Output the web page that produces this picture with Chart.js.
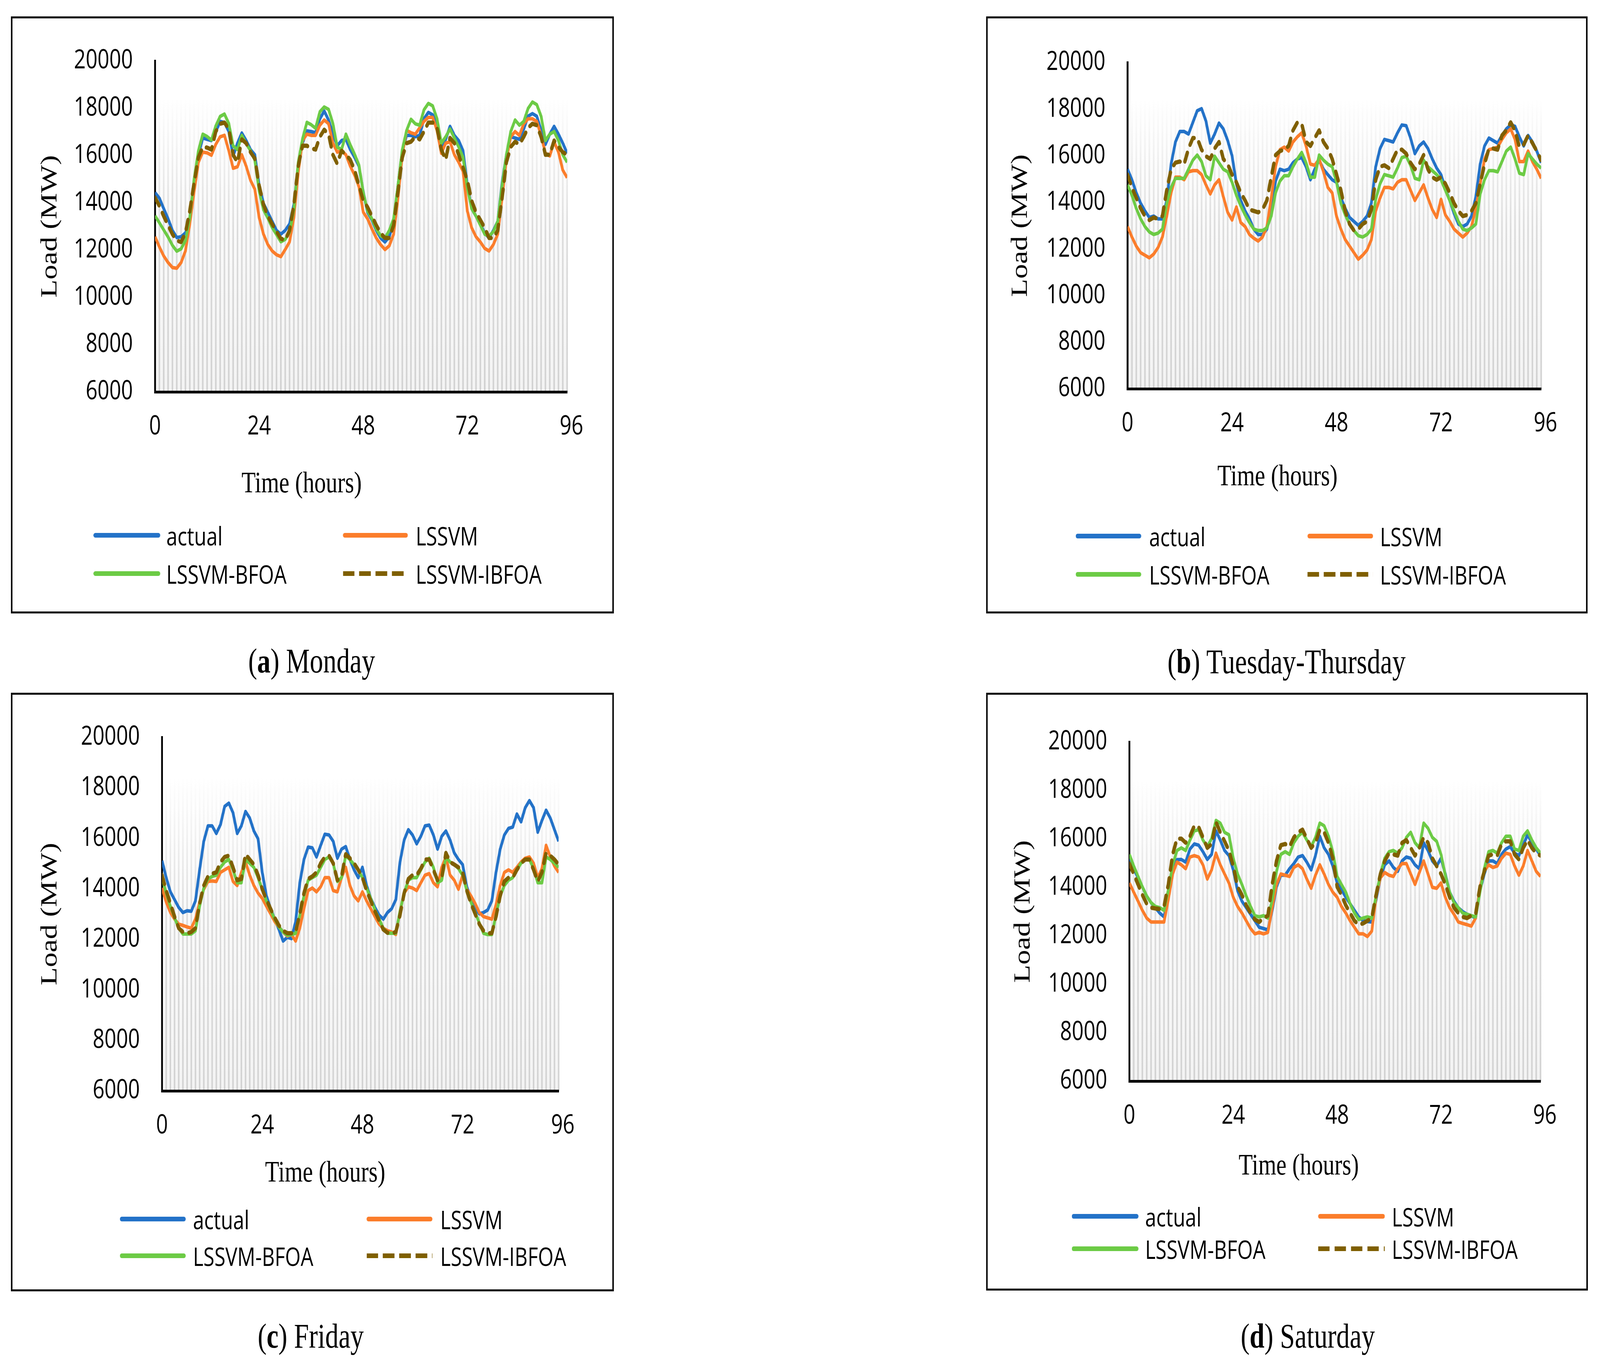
<!DOCTYPE html>
<html>
<head>
<meta charset="utf-8">
<script src="https://cdn.jsdelivr.net/npm/chart.js@4.4.1/dist/chart.umd.min.js"></script>
<style>
html, body { margin: 0; padding: 0; background: #fff; overflow: hidden; }
#stage { width: 5273px; height: 3491px; position: absolute; left: 0; top: 0; transform-origin: 0 0; font-family: 'Open Sans', sans-serif; }
.box { position: absolute; box-sizing: border-box; border: 5px solid #000; }
canvas.plot { position: absolute; }
.caption { position: absolute; font-family: 'Liberation Serif', serif; font-size: 88px; transform: translate(-50%, -50%); white-space: nowrap; line-height: 1; }
.leg-line { position: absolute; height: 12px; }
.leg-text { position: absolute; font-size: 66px; transform: translateY(-50%); white-space: nowrap; line-height: 1; color: #000; }
</style>
</head>
<body>
<div id="stage"></div>
<script>
// hours of the 4-day window and the tick labels on the time axis
var hours = Array.from({length: 96}, function (_, i) { return i; });
var xTicks = [0, 24, 48, 72, 96];
var yMin = 6000, yMax = 20000, yStep = 2000;
var seriesNames = ['actual', 'LSSVM', 'LSSVM-BFOA', 'LSSVM-IBFOA'];

// (a) Monday
var mon_actual = [14430,14190,13750,13320,12830,12530,12560,12720,13210,14620,
  16030,16740,16680,16630,17010,17440,17390,17010,15980,16520,
  16950,16630,16250,16030,14730,13970,13590,13210,12830,12670,
  12830,13100,13920,15550,16520,17040,17010,16960,17550,17880,
  17500,16900,16410,16630,16680,16250,15920,15550,14460,13590,
  13270,12830,12510,12340,12560,13210,14730,16200,16850,16850,
  16790,16850,17550,17820,17720,17280,16360,16680,17230,16850,
  16630,16200,14730,13750,13430,13100,12720,12510,12830,13210,
  14840,16030,16790,16740,16680,17120,17660,17770,17660,17060,
  16470,16900,17230,16900,16520,16090];
var mon_lssvm = [12560,12130,11750,11470,11260,11230,11470,11960,13100,14460,
  15710,16140,16110,16010,16470,16790,16850,16200,15460,15520,
  16030,15550,14950,14570,13370,12670,12230,11960,11800,11720,
  12020,12340,13370,15270,16630,16900,16850,16850,17280,17500,
  17340,16520,16140,16200,16030,15550,15170,14680,13600,13320,
  12890,12510,12230,12020,12180,12670,14190,16030,17060,16960,
  16900,17170,17440,17610,17610,17060,16090,16520,16580,16030,
  15710,15330,13650,12940,12560,12340,12070,11960,12230,12670,
  14190,15820,16790,17010,16850,17340,17550,17550,17440,16850,
  16090,15980,16580,16140,15380,15060];
var mon_bfoa = [13450,13150,12850,12550,12200,11950,12050,12400,13370,15000,
  16200,16900,16800,16650,17250,17650,17750,17350,16400,16250,
  16850,16500,16200,15800,14500,13700,13350,12950,12650,12350,
  12450,12750,13700,15700,16700,17400,17300,17150,17850,18050,
  17950,17350,16350,16250,16900,16450,16050,15600,14430,13650,
  13320,12890,12610,12510,12830,13320,14730,16250,17060,17530,
  17340,17280,17930,18200,18100,17550,16520,16790,17120,16740,
  16360,15920,14620,13750,13430,13050,12670,12590,12780,13210,
  14730,16030,17010,17500,17280,17440,17990,18260,18150,17660,
  16630,16900,17010,16630,16030,15710];
var mon_ibfoa = [14220,13860,13430,13050,12670,12400,12340,12720,13650,14840,
  15920,16360,16330,16250,17010,17340,17390,17120,16030,15710,
  16680,16520,16140,15870,14730,13920,13430,13100,12780,12480,
  12420,12830,13920,15550,16410,16410,16300,16250,16790,17090,
  16900,16030,15650,16200,16030,15820,15380,14730,14100,13810,
  13430,13050,12720,12510,12510,13050,14460,15920,16520,16580,
  16790,16680,17010,17390,17390,17170,16250,15820,16740,16520,
  16030,15490,14950,14080,13590,13270,12940,12510,12510,12830,
  14190,15710,16360,16580,16470,16790,17170,17340,17280,16790,
  16030,16030,16630,16360,16140,16030];

// (b) Tuesday-Thursday
var tue_actual = [15420,14970,14410,13960,13630,13350,13410,13290,13290,14080,
  15640,16590,17040,17040,16930,17430,17930,18020,17490,16540,
  16930,17400,17150,16650,16000,14800,14080,13630,13290,12850,
  12620,12620,12850,13690,14910,15420,15360,15420,15700,15860,
  15920,15530,14970,15420,15810,15420,15190,14970,14860,14190,
  13740,13350,13180,13010,13180,13410,13960,15530,16310,16700,
  16650,16590,16980,17320,17290,16760,16090,16420,16590,16310,
  15860,15470,15190,14580,14080,13520,13070,12960,13070,13410,
  14240,15640,16420,16760,16650,16540,16870,17150,17320,17260,
  16810,16420,16870,16590,16200,15700];
var tue_lssvm = [12960,12510,12120,11840,11730,11620,11780,12060,12510,13410,
  14410,15080,15080,14970,15310,15360,15360,15190,14750,14360,
  14750,14970,14240,13570,13240,13800,13130,12960,12620,12460,
  12340,12510,12960,14190,15530,16260,16370,16200,16590,16810,
  16980,16420,15640,15590,15860,15310,14640,14410,13400,12850,
  12400,12120,11840,11560,11730,11950,12400,13630,14190,14640,
  14640,14580,14860,14970,14970,14520,14080,14410,14750,14190,
  13690,13350,14130,13460,13180,12850,12680,12510,12680,12960,
  13740,14800,15860,16260,16310,16370,16700,16980,17150,16700,
  15750,15750,16200,15750,15420,15030];
var tue_bfoa = [14750,14300,13740,13290,12960,12730,12620,12680,12850,13960,
  14640,15030,15030,15030,15420,15810,16030,15750,15140,14970,
  15980,15700,15420,15310,14860,14300,13850,13460,13130,12850,
  12790,12790,12900,13410,14410,14910,15140,15140,15530,15860,
  16140,15700,15080,15080,16030,15810,15640,15530,14860,13960,
  13460,13070,12790,12570,12510,12620,12850,14130,14800,15190,
  15140,15080,15470,15920,15980,15590,15030,14970,15810,15530,
  15360,15190,14970,14520,14080,13630,13180,12850,12790,12900,
  13070,14360,14970,15360,15360,15310,15750,16200,16370,15860,
  15250,15190,16090,15860,15640,15470];
var tue_ibfoa = [15190,14640,14190,13740,13410,13240,13350,13290,13410,14520,
  15420,15700,15750,15640,16310,16760,16760,16260,15980,15860,
  16310,16590,15860,15640,15190,14860,14410,14080,13690,13630,
  13570,13690,14080,15080,16030,16200,16260,16420,17090,17430,
  17370,16590,16420,16760,17090,16590,16310,15860,15200,14520,
  13630,13070,12790,12850,13070,13180,13690,14970,15530,15590,
  15470,15860,16260,16260,16090,15700,15420,15640,16030,15420,
  15080,14970,15080,14800,14410,13960,13630,13410,13460,13630,
  13960,14800,15640,16310,16310,16260,16870,17090,17430,17090,
  16370,16480,16870,16540,16200,15810];

// (c) Friday
var fri_actual = [15110,14440,13880,13570,13260,13060,13130,13110,13520,14750,
  15880,16490,16490,16190,16540,17260,17390,17010,16190,16490,
  17060,16800,16290,15980,14650,13720,13210,12800,12390,11930,
  12080,12030,12700,14240,15160,15650,15620,15260,15720,16160,
  16130,15880,15210,15570,15670,15160,14750,14440,14850,14130,
  13620,13260,12960,12800,13060,13210,13570,15060,15930,16340,
  16130,15780,16080,16490,16520,16130,15570,16080,16290,15930,
  15420,15160,14960,14080,13620,13210,13010,13060,13160,13520,
  14650,15570,16130,16390,16440,16960,16650,17210,17490,17210,
  16240,16700,17110,16800,16340,15880];
var fri_lssvm = [14030,13470,13060,12800,12600,12550,12490,12440,12800,13470,
  13980,14290,14310,14290,14650,14750,14850,14290,14130,14650,
  15060,14540,14130,13830,13620,13310,13010,12700,12490,12290,
  12130,12190,11930,12440,13210,13930,14030,13880,14080,14440,
  14440,13930,13880,14440,14850,14130,13720,13520,13880,13520,
  13210,12900,12600,12440,12340,12290,12190,13110,13830,14080,
  14030,13930,14240,14540,14600,14240,14080,14850,15260,14540,
  14340,13980,14540,13980,13720,13420,13060,12900,12850,12800,
  13370,14130,14650,14750,14650,14850,15060,15210,15260,15010,
  14440,14800,15720,15260,14900,14650];
var fri_bfoa = [14440,13830,13310,12850,12440,12210,12210,12210,12340,13310,
  14030,14390,14490,14540,14850,15060,15160,14750,14240,14240,
  15160,15010,14850,14440,13980,13520,13160,12800,12490,12290,
  12160,12190,12240,12960,13720,14340,14440,14540,14850,15160,
  15260,15010,14290,14440,15310,15160,14960,14750,14440,14030,
  13620,13160,12800,12440,12240,12240,12240,13110,13830,14340,
  14440,14440,14750,15060,15210,14850,14240,14340,15260,15060,
  14960,14800,14540,13930,13470,13060,12650,12240,12190,12190,
  12960,13720,14130,14340,14440,14750,15010,15160,15160,14800,
  14240,14240,15260,15160,15010,14850];
var fri_ibfoa = [14540,13930,13420,12900,12440,12290,12240,12290,12440,13420,
  14130,14490,14600,14650,15060,15260,15310,14850,14340,14390,
  15370,15160,14960,14540,13980,13570,13210,12850,12550,12340,
  12240,12240,12290,13010,13830,14390,14490,14650,15010,15260,
  15310,15010,14340,14490,15370,15210,15010,14750,14440,13930,
  13520,13110,12750,12390,12260,12240,12290,12960,13830,14390,
  14540,14540,14800,15160,15160,14750,14340,14440,15420,15060,
  14960,14850,14650,13930,13420,13010,12600,12340,12240,12240,
  12900,13720,14290,14440,14440,14750,15010,15160,15160,14750,
  14290,14650,15420,15310,15160,14960];

// (d) Saturday
var sat_actual = [15250,14770,14390,14020,13640,13370,13160,12940,12780,13590,
  14550,15140,15150,15040,15580,15790,15740,15470,15150,15360,
  16330,15950,15520,15310,14720,13860,13430,13160,12890,12620,
  12350,12300,12240,13050,14020,14500,14500,14770,14980,15250,
  15310,15040,14720,15310,16110,15630,15360,14880,14180,13910,
  13590,13320,13050,12780,12620,12590,12570,13480,14390,14930,
  15090,14820,14660,15090,15250,15200,14930,14770,15840,15520,
  15090,14880,15200,14550,13800,13430,13160,13000,12890,12830,
  12730,13860,14550,15090,15090,14980,15360,15580,15680,15410,
  15310,15740,16170,15840,15580,15310];
var sat_lssvm = [14180,13800,13430,13050,12730,12570,12570,12570,12570,13500,
  14550,15040,14930,14770,15250,15310,15250,14930,14340,14720,
  15410,14930,14550,14180,13590,13210,12940,12620,12300,12080,
  12140,12080,12140,13160,14120,14550,14500,14450,14820,14930,
  14770,14340,13960,14500,14930,14550,14120,13800,13590,13210,
  12940,12620,12350,12080,12080,11970,12190,13590,14390,14610,
  14500,14450,14770,14980,14980,14550,14120,14610,15090,14550,
  14000,13960,14180,13590,13160,12890,12570,12510,12460,12400,
  12730,14020,14660,14930,14820,14880,15200,15410,15360,14880,
  14500,14880,15520,15090,14660,14450];
var sat_bfoa = [15360,14880,14450,14020,13640,13370,13210,13160,13050,13900,
  14930,15520,15630,15520,15950,16330,16380,15950,15680,16010,
  16760,16650,16270,16170,15200,14550,14120,13640,13210,12830,
  12780,12830,12730,13480,14660,15360,15470,15360,15840,16110,
  16270,15950,15680,16060,16650,16540,16110,15470,14450,14120,
  13800,13320,12940,12670,12730,12780,12730,13640,14550,15200,
  15470,15520,15410,15630,16060,16270,15840,15630,16650,16440,
  16060,15900,15360,14500,13800,13370,13160,12940,12890,12830,
  12780,13800,14770,15470,15520,15410,15840,16110,16110,15580,
  15520,16110,16330,15950,15630,15410];
var sat_ibfoa = [14980,14550,14120,13690,13320,13160,13130,13100,13210,14120,
  15360,16010,16010,15840,16110,16540,16490,16060,15630,15790,
  16700,16270,15900,15520,14880,14020,13690,13260,12940,12670,
  12570,12730,12830,14120,15090,15740,15790,15680,16060,16270,
  16380,16010,15630,15840,16380,16270,15840,15200,14020,13690,
  13260,12940,12620,12460,12510,12620,12730,13690,14550,15090,
  15410,15360,15310,15840,15950,15630,15310,15630,16060,15840,
  15200,14880,14550,14120,13590,13160,12940,12780,12730,12830,
  12890,14020,14660,15310,15360,15310,15790,15900,15900,15360,
  15150,15630,15950,15630,15410,15310];

var lineColors = ['#2372c8', '#fb7d2b', '#6ccb45', '#7f5f00'];

// page layout of the four framed charts (pixels)
var panels = [
  {cap: 'a', name: 'Monday', capX: 1027, capY: 1692,
   box: [36, 42, 1987, 1528], plot: [511, 1869, 143, 1003],
   xTitle: [994, 1240], yTitleX: 166,
   legRows: [1370, 1468], legCols: [[308, 528, 548], [1130, 1344, 1370]],
   series: [mon_actual, mon_lssvm, mon_bfoa, mon_ibfoa]},
  {cap: 'b', name: 'Tuesday-Thursday', capX: 4240, capY: 1694,
   box: [3250, 42, 1982, 1528], plot: [3716, 5079, 160, 995],
   xTitle: [4210, 1222], yTitleX: 3364,
   legRows: [1372, 1470], legCols: [[3545, 3761, 3787], [4309, 4525, 4548]],
   series: [tue_actual, tue_lssvm, tue_bfoa, tue_ibfoa]},
  {cap: 'c', name: 'Friday', capX: 1024, capY: 3420,
   box: [36, 1773, 1987, 1532], plot: [534, 1841, 1882, 2792],
   xTitle: [1072, 3004], yTitleX: 166,
   legRows: [3120, 3214], legCols: [[395, 612, 636], [1208, 1425, 1451]],
   series: [fri_actual, fri_lssvm, fri_bfoa, fri_ibfoa]},
  {cap: 'd', name: 'Saturday', capX: 4310, capY: 3420,
   box: [3250, 1773, 1983, 1530], plot: [3722, 5077, 1899, 2767],
   xTitle: [4305, 2986], yTitleX: 3373,
   legRows: [3113, 3196], legCols: [[3532, 3752, 3774], [4344, 4564, 4587]],
   series: [sat_actual, sat_lssvm, sat_bfoa, sat_ibfoa]}
];

var stage = document.getElementById('stage');

// striped, shaded plot background like the original
var stripes = {
  id: 'stripes',
  beforeDraw: function (chart) {
    var ctx = chart.ctx, xs = chart.scales.x, ys = chart.scales.y, area = chart.chartArea;
    var top = ys.getPixelForValue(18400);
    ctx.save();
    var g = ctx.createLinearGradient(0, top, 0, area.bottom);
    g.addColorStop(0, '#ffffff');
    g.addColorStop(1, '#f4f4f4');
    ctx.fillStyle = g;
    ctx.fillRect(area.left, top, area.right - area.left, area.bottom - top);
    var g2 = ctx.createLinearGradient(0, top, 0, area.bottom);
    g2.addColorStop(0, 'rgba(214,214,214,0)');
    g2.addColorStop(0.15, 'rgba(214,214,214,0.25)');
    g2.addColorStop(0.45, 'rgba(214,214,214,0.85)');
    g2.addColorStop(1, 'rgba(210,210,210,1)');
    ctx.fillStyle = g2;
    var step = xs.getPixelForValue(1) - xs.getPixelForValue(0);
    chart.data.labels.forEach(function (h) {
      var px = xs.getPixelForValue(h);
      ctx.fillRect(px - step * 0.18, top, step * 0.36, area.bottom - top);
    });
    ctx.restore();
  }
};

function make_panel(p) {
  var bx = p.box[0], by = p.box[1], W = p.box[2], H = p.box[3];
  var x0 = p.plot[0] - bx, x1 = p.plot[1] - bx, y0 = p.plot[2] - by, y1 = p.plot[3] - by;
  var titleSize = 76, lh = titleSize * 1.2;
  var T = p.xTitle[0] - bx, Ty = p.xTitle[1] - by, Y = p.yTitleX - bx;

  // padding so the full-width bottom title is centred where the original has it
  var L = Math.max(0, 2 * T - W);
  L = Math.min(L, Math.max(0, Y - lh / 2));
  var R = Math.max(0, L + W - 2 * T);
  var spacer = W - x1 - R;
  if (spacer < 0) { R = W - x1; spacer = 0; }
  var yWidth = x0 - L;
  var yTitlePad = Math.max(0, Y - L - lh / 2);
  var xHeight = Ty - y1 - lh / 2;
  var padBottom = H - y1 - xHeight - lh;

  var frame = document.createElement('div');
  frame.className = 'box';
  frame.style.left = bx + 'px'; frame.style.top = by + 'px';
  frame.style.width = W + 'px'; frame.style.height = H + 'px';
  stage.appendChild(frame);

  var cv = document.createElement('canvas');
  cv.className = 'plot';
  cv.width = W; cv.height = H;
  cv.style.left = bx + 'px'; cv.style.top = by + 'px';
  cv.style.width = W + 'px'; cv.style.height = H + 'px';
  stage.appendChild(cv);

  var datasets = seriesNames.map(function (name, i) {
    var ds = {
      label: name,
      data: p.series[i],
      borderColor: lineColors[i],
      backgroundColor: lineColors[i],
      borderWidth: 9,
      pointRadius: 0,
      tension: 0,
      fill: false,
      borderJoinStyle: 'round',
      order: 4 - i
    };
    if (i === 3) {
      ds.borderDash = [24, 22];
      ds.borderCapStyle = 'round';
      ds.borderWidth = 11;
    }
    return ds;
  });

  new Chart(cv, {
    type: 'line',
    data: {labels: hours, datasets: datasets},
    options: {
      responsive: false,
      animation: false,
      devicePixelRatio: 1,
      layout: {padding: {left: L, right: R, top: y0, bottom: padBottom}},
      scales: {
        x: {
          type: 'linear', min: 0, max: 95,
          afterBuildTicks: function (s) { s.ticks = xTicks.map(function (v) { return {value: v}; }); },
          afterFit: function (s) { s.height = xHeight; },
          grid: {display: false, drawTicks: false},
          border: {display: true, color: '#000', width: 7},
          ticks: {autoSkip: false, maxRotation: 0, padding: 49, color: '#000',
                  font: {family: 'Open Sans', size: 68},
                  callback: function (v) { return String(v); }}
        },
        y: {
          min: yMin, max: yMax,
          afterFit: function (s) { s.width = yWidth; },
          grid: {display: false, drawTicks: false},
          border: {display: true, color: '#000', width: 6},
          ticks: {stepSize: yStep, padding: 73, color: '#000',
                  font: {family: 'Open Sans', size: 68},
                  callback: function (v) { return String(v); }},
          title: {display: true, text: 'Load (MW)', color: '#000',
                  font: {family: 'Liberation Serif', size: titleSize},
                  padding: {top: yTitlePad, bottom: 0}}
        },
        spacer: {
          axis: 'y', position: 'right', display: true,
          afterFit: function (s) { s.width = spacer; },
          grid: {display: false}, border: {display: false}, ticks: {display: false}
        }
      },
      plugins: {
        legend: {display: false},
        tooltip: {enabled: false},
        title: {display: true, position: 'bottom', text: 'Time (hours)', color: '#000',
                font: {family: 'Liberation Serif', size: titleSize, weight: 'normal'},
                padding: 0, fullSize: true}
      }
    },
    plugins: [stripes]
  });

  // legend in two columns, as in the original
  datasets.forEach(function (ds, i) {
    var row = p.legRows[Math.floor(i / 2)], col = p.legCols[i % 2];
    var ln = document.createElement('div');
    ln.className = 'leg-line';
    ln.style.left = col[0] + 'px';
    ln.style.width = (col[1] - col[0]) + 'px';
    ln.style.top = (row - 6) + 'px';
    if (ds.borderDash) {
      ln.style.background = 'repeating-linear-gradient(to right, ' + ds.borderColor + ' 0 38px, transparent 38px 54px)';
    } else {
      ln.style.background = ds.borderColor;
      ln.style.borderRadius = '6px';
    }
    stage.appendChild(ln);
    var tx = document.createElement('div');
    tx.className = 'leg-text';
    tx.style.left = col[2] + 'px';
    tx.style.top = row + 'px';
    tx.textContent = ds.label;
    stage.appendChild(tx);
  });

  var cap = document.createElement('div');
  cap.className = 'caption';
  cap.style.left = p.capX + 'px';
  cap.style.top = p.capY + 'px';
  cap.innerHTML = '(<b>' + p.cap + '</b>) ' + p.name;
  stage.appendChild(cap);
}

panels.forEach(make_panel);

// keep the whole 5273x3491 figure inside the window that is photographed
function fit_stage() {
  var sx = window.innerWidth / 5273, sy = window.innerHeight / 3491;
  if (Math.abs(sx - 1) < 0.002 && Math.abs(sy - 1) < 0.002) { stage.style.transform = ''; return; }
  stage.style.transform = 'scale(' + sx + ',' + sy + ')';
}
fit_stage();
</script>
</body>
</html>
